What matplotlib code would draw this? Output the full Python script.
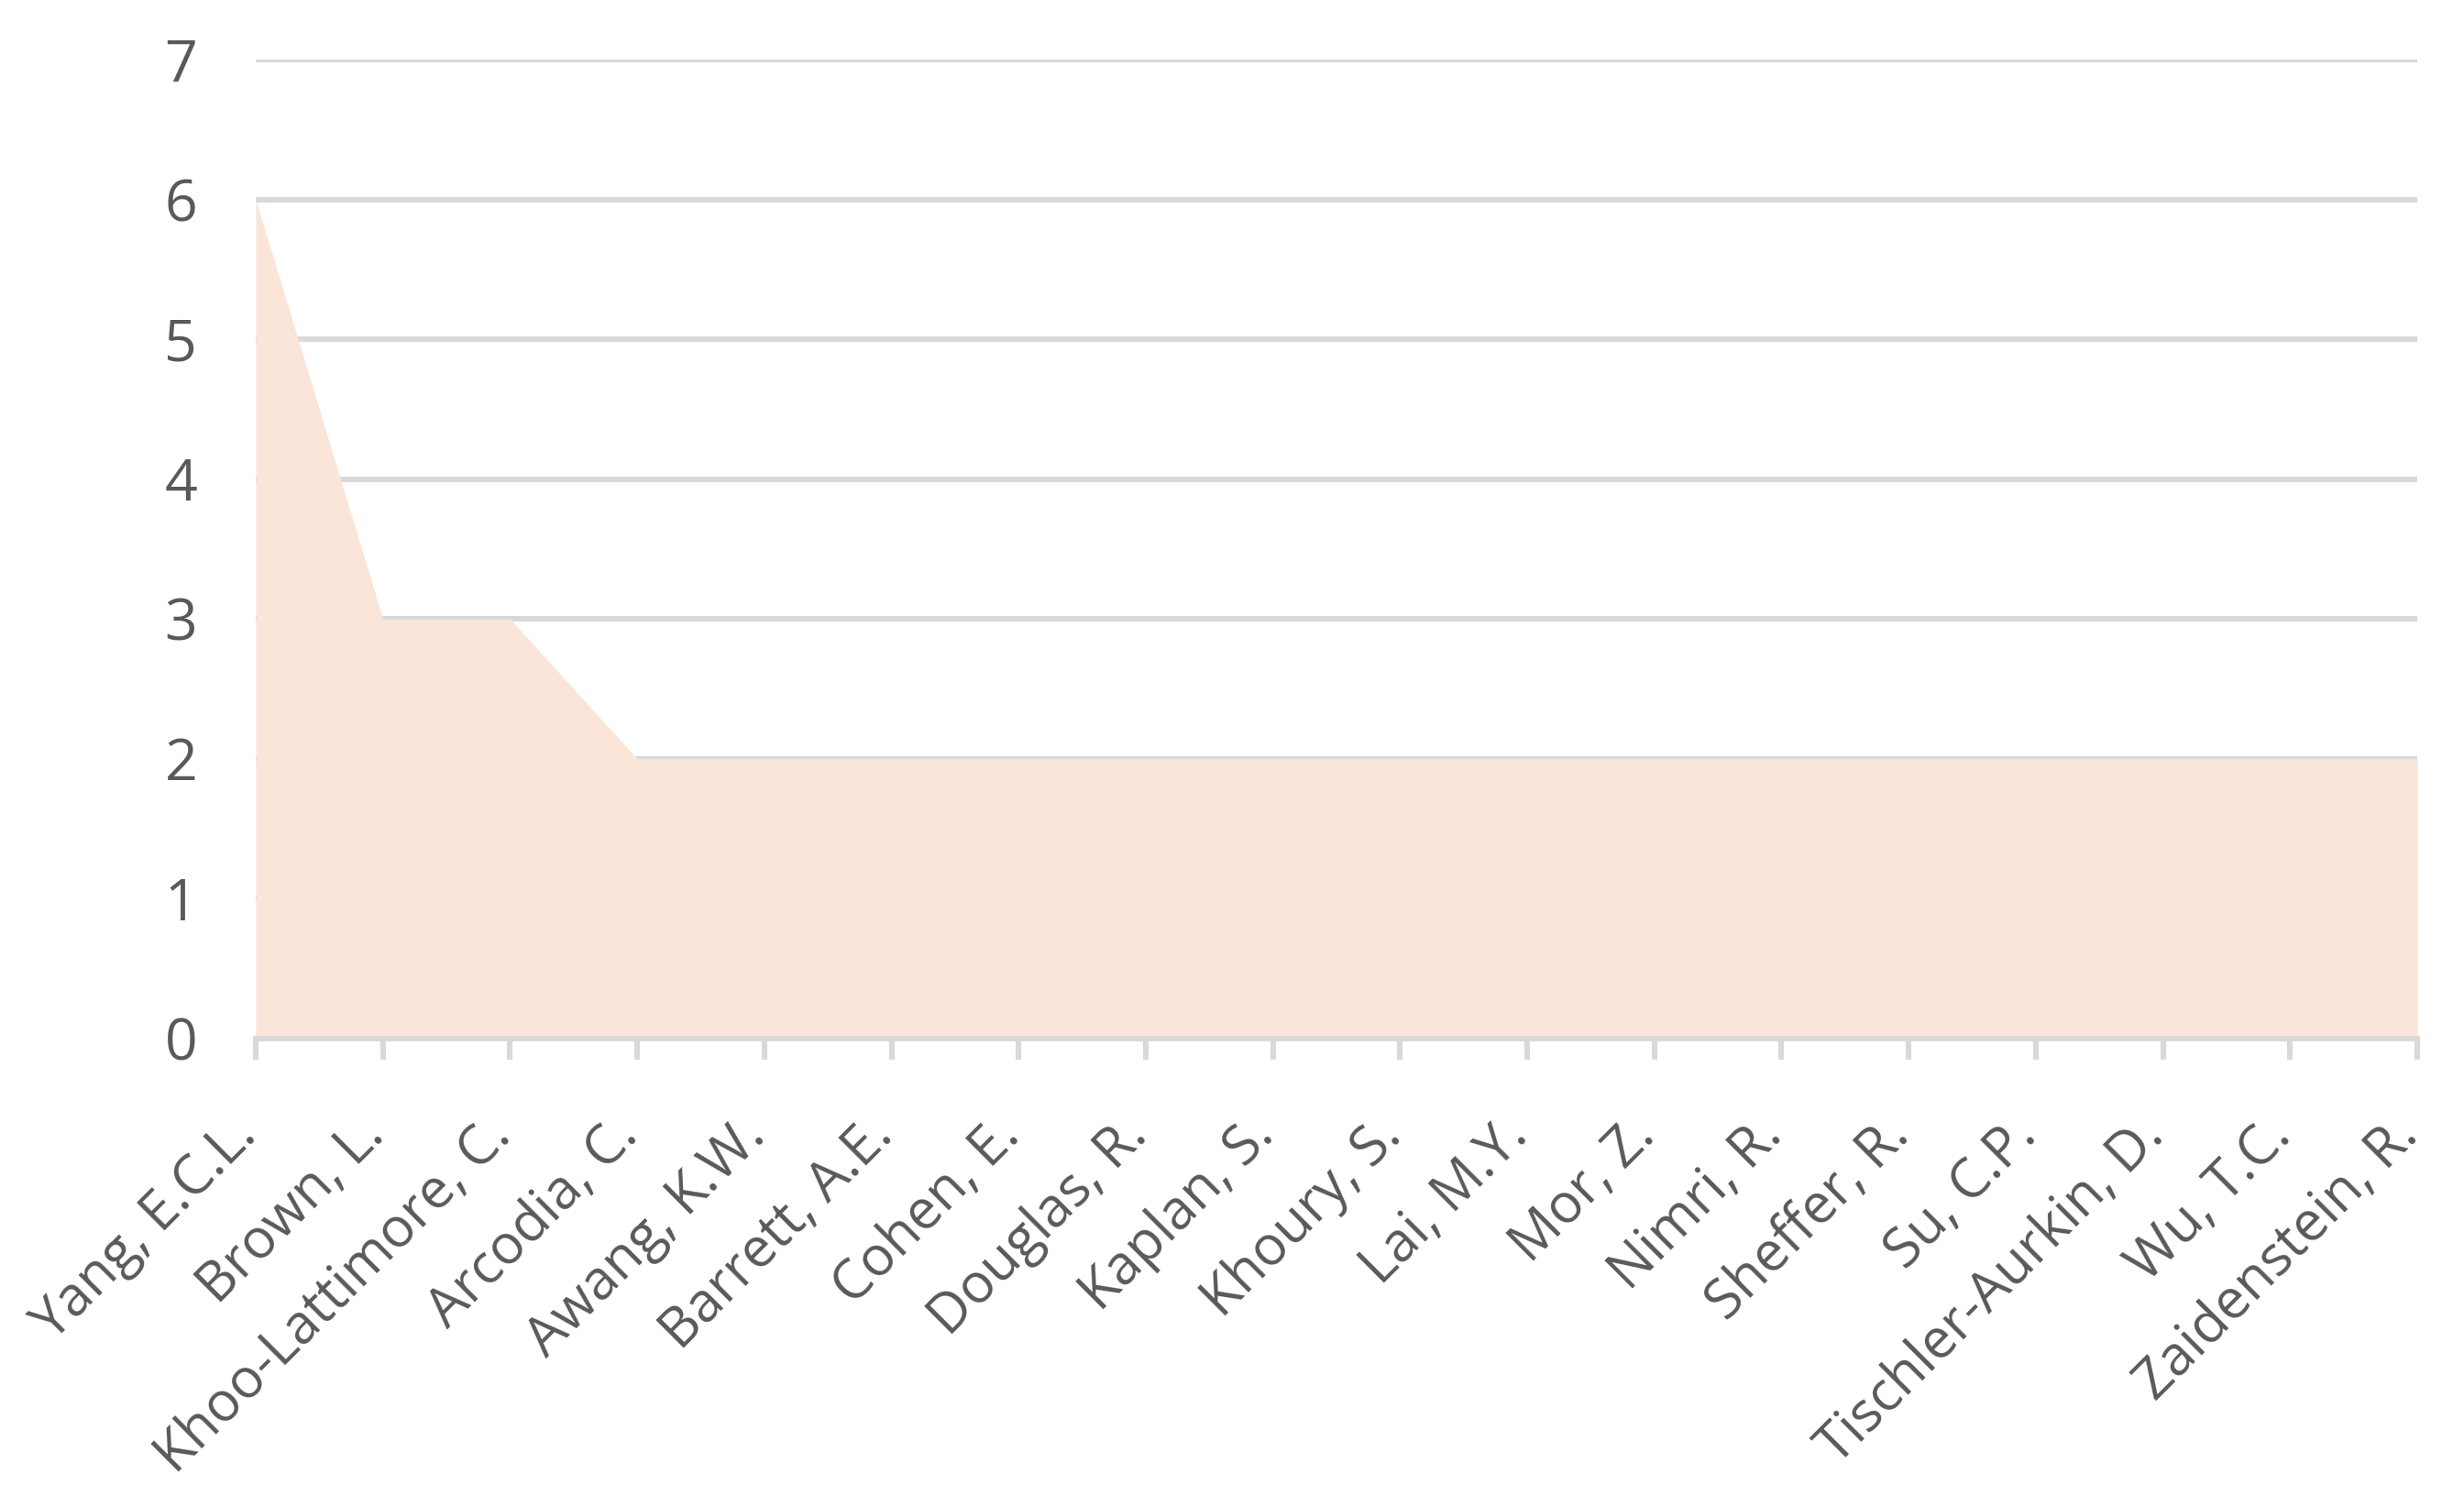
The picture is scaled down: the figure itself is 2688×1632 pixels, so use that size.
import matplotlib.pyplot as plt
import matplotlib.transforms as mtransforms

authors = ['Yang, E.C.L.', 'Brown, L.', 'Khoo-Lattimore, C.', 'Arcodia, C.',
           'Awang, K.W.', 'Barrett, A.E.', 'Cohen, E.', 'Douglas, R.',
           'Kaplan, S.', 'Khoury, S.', 'Lai, M.Y.', 'Mor, Z.', 'Nimri, R.',
           'Sheffer, R.', 'Su, C.P.', 'Tischler-Aurkin, D.', 'Wu, T.C.',
           'Zaidenstein, R.']
counts = [6, 3, 3, 2, 2, 2, 2, 2, 2, 2, 2, 2, 2, 2, 2, 2, 2, 2]
yticks = [0, 1, 2, 3, 4, 5, 6, 7]

plt.rcParams['font.family'] = ['Open Sans', 'DejaVu Sans']

fig = plt.figure(figsize=(13.44, 8.16), dpi=200)
ax = fig.add_axes([0.1038, 0.306, 0.8772, 0.654])

x = list(range(len(authors)))
ax.fill_between(x, counts, 0, color='#fae5d8', linewidth=0, zorder=2)

ax.set_xlim(0, len(authors) - 1)
ax.set_ylim(0, 7)
ax.set_yticks(yticks)
ax.set_xticks(x)
ax.set_xticklabels(authors, rotation=45, ha='right', va='top')

grid_c = '#d9d9d9'
for y in yticks[1:]:
    ax.axhline(y, color=grid_c, linewidth=2.2, zorder=1)

for s in ['top', 'right', 'left']:
    ax.spines[s].set_visible(False)
ax.spines['bottom'].set_color(grid_c)
ax.spines['bottom'].set_linewidth(2.2)
ax.spines['bottom'].set_zorder(3)

ax.tick_params(axis='y', length=0, pad=23, labelsize=22.5, labelcolor='#595959')
ax.tick_params(axis='x', length=8.3, width=2.2, color=grid_c, pad=19,
               labelsize=21.5, labelcolor='#595959')

offset = mtransforms.ScaledTranslation(13 / 200, 0, fig.dpi_scale_trans)
for lbl in ax.get_xticklabels():
    lbl.set_transform(lbl.get_transform() + offset)

fig.savefig('out.png', dpi=200)
